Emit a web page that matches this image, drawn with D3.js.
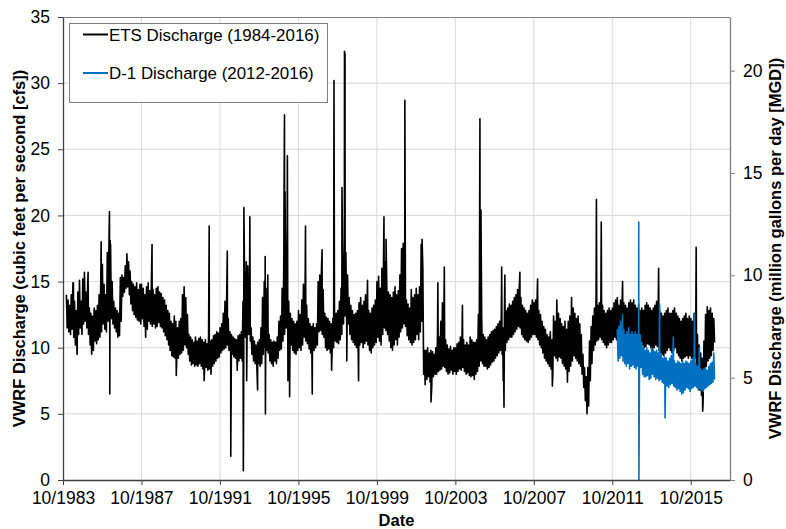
<!DOCTYPE html>
<html>
<head>
<meta charset="utf-8">
<script src="https://cdn.jsdelivr.net/npm/d3@7"></script>
<style>
  html, body { margin: 0; padding: 0; background: #fff; }
  svg { display: block; font-family: "Liberation Sans", Arial, sans-serif; }
</style>
</head>
<body>
<svg id="chart" width="786" height="529"></svg>
<script>
// ---------------- DATA ----------------
// ETS discharge (cfs): monthly upper / lower envelope, Dec 1983 .. Dec 2016
const etsStart = [1983, 11]; // Dec 1983
const etsHigh = [
  14.0,13.6,13.2,14.0,14.9,13.5,12.8,14.2,15.1,13.5,            // Dec83-Sep84
  15.2,15.7,14.2,14.9,13.0,12.6,12.4,13.0,12.8,13.2,14.0,15.0,  // WY1985
  16.3,14.8,14.0,17.2,18.0,17.0,15.0,13.5,13.0,12.8,12.6,15.3,  // WY1986
  15.5,15.3,16.2,17.1,16.5,15.8,15.0,14.8,14.6,14.9,14.4,14.8,  // WY1987
  14.8,14.5,14.0,14.6,14.9,14.3,15.0,14.4,14.0,14.5,14.6,14.2,  // WY1988
  14.1,13.8,13.6,13.2,12.8,12.6,12.0,11.8,12.4,12.0,11.5,12.0,  // WY1989
  12.2,14.0,14.6,13.8,12.5,11.0,10.8,10.6,10.4,10.8,10.5,10.7,  // WY1990
  10.8,10.6,10.4,10.6,10.3,10.8,10.5,10.6,10.9,11.0,11.2,11.1,  // WY1991
  11.5,11.8,12.6,13.5,13.8,12.2,11.2,11.0,10.8,10.7,10.6,10.9,  // WY1992
  11.0,11.2,13.5,15.0,16.5,16.2,14.0,11.5,10.8,10.5,10.2,10.4,  // WY1993
  10.6,11.5,13.8,15.0,14.5,13.0,11.0,10.6,10.4,10.5,10.4,10.8,  // WY1994
  12.0,12.4,14.5,17.0,17.4,16.0,13.5,12.6,12.2,12.0,11.8,12.0,  // WY1995
  12.8,12.5,13.6,14.8,14.5,13.2,12.2,11.8,11.6,11.8,11.5,11.8,  // WY1996
  15.0,15.5,15.9,14.4,12.6,12.3,12.2,12.0,11.8,12.2,12.5,12.6,  // WY1997
  12.8,13.5,14.5,16.5,17.6,17.2,15.5,13.8,13.2,12.8,12.5,12.6,  // WY1998
  12.8,13.4,13.8,13.2,13.5,14.0,13.6,12.8,12.6,13.0,13.2,13.6,  // WY1999
  15.0,15.4,14.5,16.0,17.0,16.5,14.6,14.2,14.0,13.8,14.2,14.6,  // WY2000
  14.0,14.3,15.5,17.5,17.9,16.0,13.6,13.3,13.0,14.4,13.8,14.0,  // WY2001
  14.5,14.0,14.6,17.8,16.0,9.8,9.8,10.0,9.6,9.8,9.7,9.5,        // WY2002
  10.0,11.0,10.8,12.0,13.4,13.0,10.6,10.2,9.9,10.1,9.8,10.0,    // WY2003
  10.0,10.3,10.4,10.8,11.2,10.6,10.2,10.4,10.2,10.8,10.6,10.4,  // WY2004
  10.4,10.6,12.5,14.0,12.2,11.0,10.8,10.6,10.8,11.0,11.2,11.3,  // WY2005
  11.4,11.6,11.8,12.0,12.5,11.5,13.0,12.8,13.0,13.3,13.2,13.5,  // WY2006
  13.8,14.0,14.4,14.5,13.8,13.2,13.0,12.8,12.6,12.8,13.2,13.6,  // WY2007
  13.4,13.6,14.0,12.8,12.5,12.0,11.6,11.4,11.0,10.8,11.2,10.6,  // WY2008
  12.4,12.0,13.6,12.6,12.2,11.8,11.6,12.0,11.4,12.0,12.4,13.8,  // WY2009
  13.0,12.6,12.2,12.4,11.8,11.0,9.5,8.5,7.8,8.5,10.5,11.6,      // WY2010
  12.4,13.0,13.6,13.2,13.4,13.8,13.2,12.8,12.6,12.8,13.0,12.8,  // WY2011
  13.0,13.4,13.6,13.8,13.2,13.6,13.8,13.4,13.2,13.0,13.4,13.6,  // WY2012
  13.4,13.6,13.2,13.0,13.3,12.8,13.0,12.8,13.2,13.4,13.2,13.0,  // WY2013
  12.8,13.0,13.2,13.5,13.4,12.8,12.6,12.4,12.6,12.8,13.0,12.6,  // WY2014
  12.6,12.8,13.0,12.6,12.4,12.2,12.0,12.2,12.4,12.6,12.2,12.4,  // WY2015
  12.2,12.0,12.6,12.0,11.0,10.2,9.6,9.2,10.5,12.5,13.1,12.8,    // WY2016
  13.0,12.6,12.2                                                // Oct-Dec 2016
];
const etsLow = [
  11.5,11.2,11.0,11.4,10.8,10.2,9.6,11.0,11.5,11.0,
  11.8,12.0,11.5,11.0,10.2,9.5,9.8,10.5,10.3,10.6,10.8,11.2,
  11.8,11.4,11.2,12.0,11.0,12.2,11.8,11.5,11.2,10.8,10.9,12.0,
  13.9,14.2,14.5,14.6,14.0,13.3,12.8,12.5,12.3,12.1,12.0,11.8,
  12.2,11.6,10.8,11.4,12.0,11.8,11.6,11.8,11.5,11.6,11.9,11.6,
  11.5,11.2,10.9,10.6,10.2,9.8,9.4,9.3,9.2,9.0,9.2,9.5,
  9.6,9.8,10.2,10.0,9.5,9.0,8.7,8.8,8.6,8.7,8.6,8.8,
  8.6,8.4,8.2,8.5,8.3,8.4,8.0,8.6,8.8,9.0,9.2,9.3,
  9.6,9.8,9.9,10.0,10.2,9.8,9.6,9.5,9.3,9.2,8.3,9.0,
  9.2,9.0,9.5,10.8,11.2,11.0,10.5,9.5,9.0,8.8,8.6,8.8,
  8.6,8.8,9.5,10.0,9.8,9.6,9.0,8.8,8.6,9.0,8.8,9.2,
  9.8,9.9,10.5,11.0,11.5,10.8,10.0,10.2,9.8,9.6,9.5,9.8,
  10.0,9.8,10.2,10.8,10.5,10.3,9.9,9.6,9.5,9.8,10.0,10.2,
  11.2,11.3,11.0,10.8,10.0,9.8,9.9,9.6,9.4,10.0,10.5,10.4,
  10.3,10.6,11.0,11.8,12.4,12.0,11.8,11.0,10.6,10.4,10.2,10.0,
  9.8,10.2,10.4,10.0,10.3,10.5,10.2,9.8,9.6,10.0,10.2,10.4,
  10.8,10.5,10.2,11.0,11.5,11.3,11.0,10.5,10.0,9.8,10.2,10.6,
  10.2,10.8,11.2,11.5,11.8,11.6,10.9,10.6,10.4,10.2,10.4,10.6,
  11.0,10.6,11.2,12.0,8.0,7.2,7.6,7.8,7.4,7.0,7.8,8.0,
  8.0,8.2,8.3,8.4,8.6,8.5,8.2,8.0,8.1,8.3,8.0,8.2,
  8.0,8.2,8.4,8.3,8.5,8.2,8.0,8.1,7.9,7.8,7.9,7.6,
  8.0,8.2,8.6,9.0,8.8,8.6,8.6,8.4,8.5,8.7,8.9,9.0,
  9.2,9.4,9.6,9.8,9.5,8.5,9.8,10.4,10.6,10.8,10.8,11.0,
  11.2,11.4,11.6,11.5,11.0,10.8,10.6,10.5,10.4,10.6,10.8,11.0,
  11.0,10.8,10.6,10.2,10.0,9.6,9.2,9.0,8.8,8.6,8.4,7.8,
  9.4,9.2,9.0,9.3,9.2,8.8,8.6,8.4,7.4,8.2,8.6,9.0,
  9.4,9.2,9.0,8.8,8.6,8.0,7.0,6.0,5.0,5.6,7.5,8.8,
  9.8,10.2,10.5,10.6,10.8,10.6,10.4,10.2,10.0,10.2,10.4,10.4,
  10.6,10.8,10.6,10.4,10.5,10.6,10.8,10.6,10.4,10.2,10.4,10.6,
  10.6,10.8,10.4,10.2,10.0,9.9,10.2,10.0,10.1,10.3,10.2,10.0,
  9.8,10.0,10.2,10.1,9.8,9.6,9.5,9.4,9.6,9.8,10.0,9.8,
  9.6,9.8,10.0,9.6,9.4,9.2,9.0,9.2,9.3,9.4,9.2,9.4,
  9.2,9.0,9.2,8.4,7.4,6.8,6.4,5.8,7.0,8.6,9.0,9.2,
  9.4,9.8,10.4
];
// single-day peaks and dips (cfs)
const etsSpikes = [
  ["1984-04-12",14.9],["1984-06-20",9.5],["1985-01-10",15.7],["1985-09-10",18.0],
  ["1986-02-05",18.6],["1986-02-12",20.3],["1986-02-18",6.5],
  ["1986-02-25",18.1],["1986-03-05",17.8],["1988-04-15",17.8],["1989-07-10",7.9],
  ["1990-12-10",7.5],["1991-03-15",19.2],["1992-02-15",17.3],["1992-04-20",1.8],
  ["1992-12-10",0.7],["1992-12-20",20.6],["1993-02-10",7.5],["1993-04-10",19.9],
  ["1993-09-01",6.8],["1994-01-20",16.9],["1994-01-25",5.0],["1994-03-10",15.5],
  ["1995-01-05",20.2],["1995-01-15",27.6],["1995-01-25",21.8],["1995-03-10",24.5],
  ["1995-03-20",7.5],["1995-04-20",6.3],["1996-02-10",19.2],["1996-06-15",6.5],
  ["1996-12-15",17.4],["1997-06-10",8.3],["1997-07-25",30.2],["1997-12-20",22.1],
  ["1998-02-05",32.4],["1998-02-15",32.2],["1998-03-20",9.0],["1998-10-25",7.5],
  ["1999-04-10",15.1],["2000-02-10",19.9],["2000-03-20",18.2],["2001-03-05",28.7],
  ["2002-01-20",18.2],["2002-07-05",5.9],["2002-11-10",14.9],["2003-03-10",16.1],
  ["2004-02-10",13.2],["2005-01-01",27.3],["2005-01-20",20.4],["2006-02-10",16.1],
  ["2006-03-10",7.5],["2006-03-25",5.5],["2006-04-10",15.5],["2007-01-15",15.7],
  ["2007-12-10",15.2],["2008-09-10",7.1],["2010-12-10",21.2],["2011-03-10",19.5],
  ["2012-04-10",15.0],["2014-02-10",16.0],["2016-01-10",17.6],["2016-05-10",5.2]
];

// D-1 discharge (cfs): monthly upper / lower envelope, Jan 2012 .. Dec 2016
const d1Start = [2012, 0];
const d1High = [
  11.4,11.6,12.0,11.2,11.4,11.0,11.2,11.5,11.0,11.2,11.0,11.2,
  11.0,10.9,11.0,10.4,10.0,9.8,10.0,9.8,9.6,10.0,9.8,9.7,
  9.8,9.6,9.8,9.4,9.2,9.3,9.2,9.0,9.2,9.4,9.3,9.0,
  8.8,9.0,8.9,8.8,9.0,8.8,9.0,8.9,8.8,9.0,9.2,9.0,
  8.8,8.6,8.8,8.4,8.3,8.4,8.5,8.3,8.6,8.8,8.9,9.6
];
const d1Low = [
  9.0,9.2,9.4,9.0,8.8,8.6,8.8,8.4,8.6,8.7,8.5,8.4,
  8.6,8.3,8.5,8.0,7.8,7.8,7.9,7.6,7.7,8.0,7.8,7.6,
  7.7,7.5,7.6,7.4,7.3,7.2,7.1,7.0,7.2,7.3,7.1,7.0,
  6.8,6.9,6.7,6.5,6.6,6.8,7.0,6.9,6.7,6.9,7.0,7.1,
  7.0,6.8,6.9,6.8,6.7,6.9,7.0,7.1,7.2,7.3,7.4,7.6
];
const d1Spikes = [
  ["2012-04-10",12.5],["2013-02-05",19.5],["2013-02-08",0.0],["2014-03-01",13.3],
  ["2014-06-10",4.7],["2014-11-10",10.8],["2015-12-10",12.5],["2016-03-10",10.0]
];

const yTicksCfs = [0, 5, 10, 15, 20, 25, 30, 35];
const yTicksMgd = [0, 5, 10, 15, 20];
const xTickYears = [1983, 1987, 1991, 1995, 1999, 2003, 2007, 2011, 2015];
const CFS_TO_MGD = 0.646317;
const legendLabels = ["ETS Discharge (1984-2016)", "D-1 Discharge (2012-2016)"];

// ---------------- CHART ----------------
const svg = d3.select("#chart");
const L = 63, R = 730, T = 17, B = 480;

const x = d3.scaleTime()
  .domain([new Date(1983, 9, 1), new Date(2017, 9, 1)])
  .range([L, R]);
const y = d3.scaleLinear().domain([0, 35]).range([B, T]);
const yR = d3.scaleLinear().domain([0, 35 * CFS_TO_MGD]).range([B, T]);

const parse = d3.timeParse("%Y-%m-%d");
function buildSeries(start, hi, lo, spikes) {
  const pts = [];
  hi.forEach((h, i) => {
    pts.push({ date: new Date(start[0], start[1] + i, 3), v: h });
    pts.push({ date: new Date(start[0], start[1] + i, 18), v: lo[i] });
  });
  spikes.forEach(s => pts.push({ date: parse(s[0]), v: s[1] }));
  pts.sort((a, b) => a.date - b.date);
  return pts;
}
const etsPts = buildSeries(etsStart, etsHigh, etsLow, etsSpikes);
const d1Pts = buildSeries(d1Start, d1High, d1Low, d1Spikes);

// gridlines
const grid = svg.append("g");
grid.selectAll("line.h").data(yTicksCfs.filter(v => v > 0 && v < 35)).join("line")
  .attr("x1", L).attr("x2", R)
  .attr("y1", d => y(d)).attr("y2", d => y(d))
  .attr("stroke", "#d9d9d9").attr("stroke-width", 1);
grid.selectAll("line.v").data(xTickYears.slice(1)).join("line")
  .attr("x1", d => x(new Date(d, 9, 1))).attr("x2", d => x(new Date(d, 9, 1)))
  .attr("y1", T).attr("y2", B)
  .attr("stroke", "#d9d9d9").attr("stroke-width", 1);

// frame top (gray)
svg.append("line").attr("x1", L).attr("x2", R).attr("y1", T + 0.5).attr("y2", T + 0.5)
  .attr("stroke", "#7f7f7f").attr("stroke-width", 1);

// series
const line = d3.line().x(d => x(d.date)).y(d => y(d.v));
svg.append("path").datum(etsPts)
  .attr("d", line).attr("fill", "none")
  .attr("stroke", "#000").attr("stroke-width", 1.6).attr("stroke-linejoin", "round");
svg.append("path").datum(d1Pts)
  .attr("d", line).attr("fill", "none")
  .attr("stroke", "#0070c0").attr("stroke-width", 1.6).attr("stroke-linejoin", "round");

// axes
const fmtTick = d => "10/" + d.getFullYear();
const axL = svg.append("g").attr("transform", `translate(${L},0)`)
  .call(d3.axisLeft(y).tickValues(yTicksCfs).tickSize(5).tickPadding(8).tickSizeOuter(0));
const axB = svg.append("g").attr("transform", `translate(0,${B})`)
  .call(d3.axisBottom(x).tickValues(xTickYears.map(yr => new Date(yr, 9, 1)))
    .tickFormat(fmtTick).tickSize(5).tickPadding(7).tickSizeOuter(0));
const axR = svg.append("g").attr("transform", `translate(${R},0)`)
  .call(d3.axisRight(yR).tickValues(yTicksMgd).tickSize(5).tickPadding(8).tickSizeOuter(0));

[axL, axB].forEach(a => {
  a.select(".domain").attr("stroke", "#404040").attr("stroke-width", 1.3);
  a.selectAll(".tick line").attr("stroke", "#404040");
});
axR.select(".domain").attr("stroke", "#7f7f7f").attr("stroke-width", 1.3);
axR.selectAll(".tick line").attr("stroke", "#7f7f7f");
[axL, axB, axR].forEach(a => {
  a.selectAll(".tick text").attr("fill", "#000")
    .style("font-size", "17.5px").style("font-family", "'Liberation Sans', Arial, sans-serif");
});

// axis titles
svg.append("text")
  .attr("transform", `translate(25,${(T + B) / 2}) rotate(-90)`)
  .attr("text-anchor", "middle").attr("font-weight", "bold").attr("font-size", 16.5)
  .attr("fill", "#000")
  .text("VWRF Discharge (cubic feet per second [cfs])");
svg.append("text")
  .attr("transform", `translate(781,${(T + B) / 2}) rotate(-90)`)
  .attr("text-anchor", "middle").attr("font-weight", "bold").attr("font-size", 16.5)
  .attr("fill", "#000")
  .text("VWRF Discharge (million gallons per day [MGD])");
svg.append("text")
  .attr("x", (L + R) / 2).attr("y", 526)
  .attr("text-anchor", "middle").attr("font-weight", "bold").attr("font-size", 16.5)
  .attr("fill", "#000")
  .text("Date");

// legend
const lg = svg.append("g");
lg.append("rect").attr("x", 69.5).attr("y", 23.5).attr("width", 258).attr("height", 79)
  .attr("fill", "#fff").attr("stroke", "#7f7f7f").attr("stroke-width", 1);
const legendColors = ["#000", "#0070c0"];
legendLabels.forEach((lab, i) => {
  const yy = 34.5 + i * 38.5;
  lg.append("line").attr("x1", 83).attr("x2", 108).attr("y1", yy).attr("y2", yy)
    .attr("stroke", legendColors[i]).attr("stroke-width", 2);
  lg.append("text").attr("x", 109).attr("y", yy + 6)
    .attr("font-size", 16.9).attr("fill", "#000").text(lab);
});
</script>
</body>
</html>
